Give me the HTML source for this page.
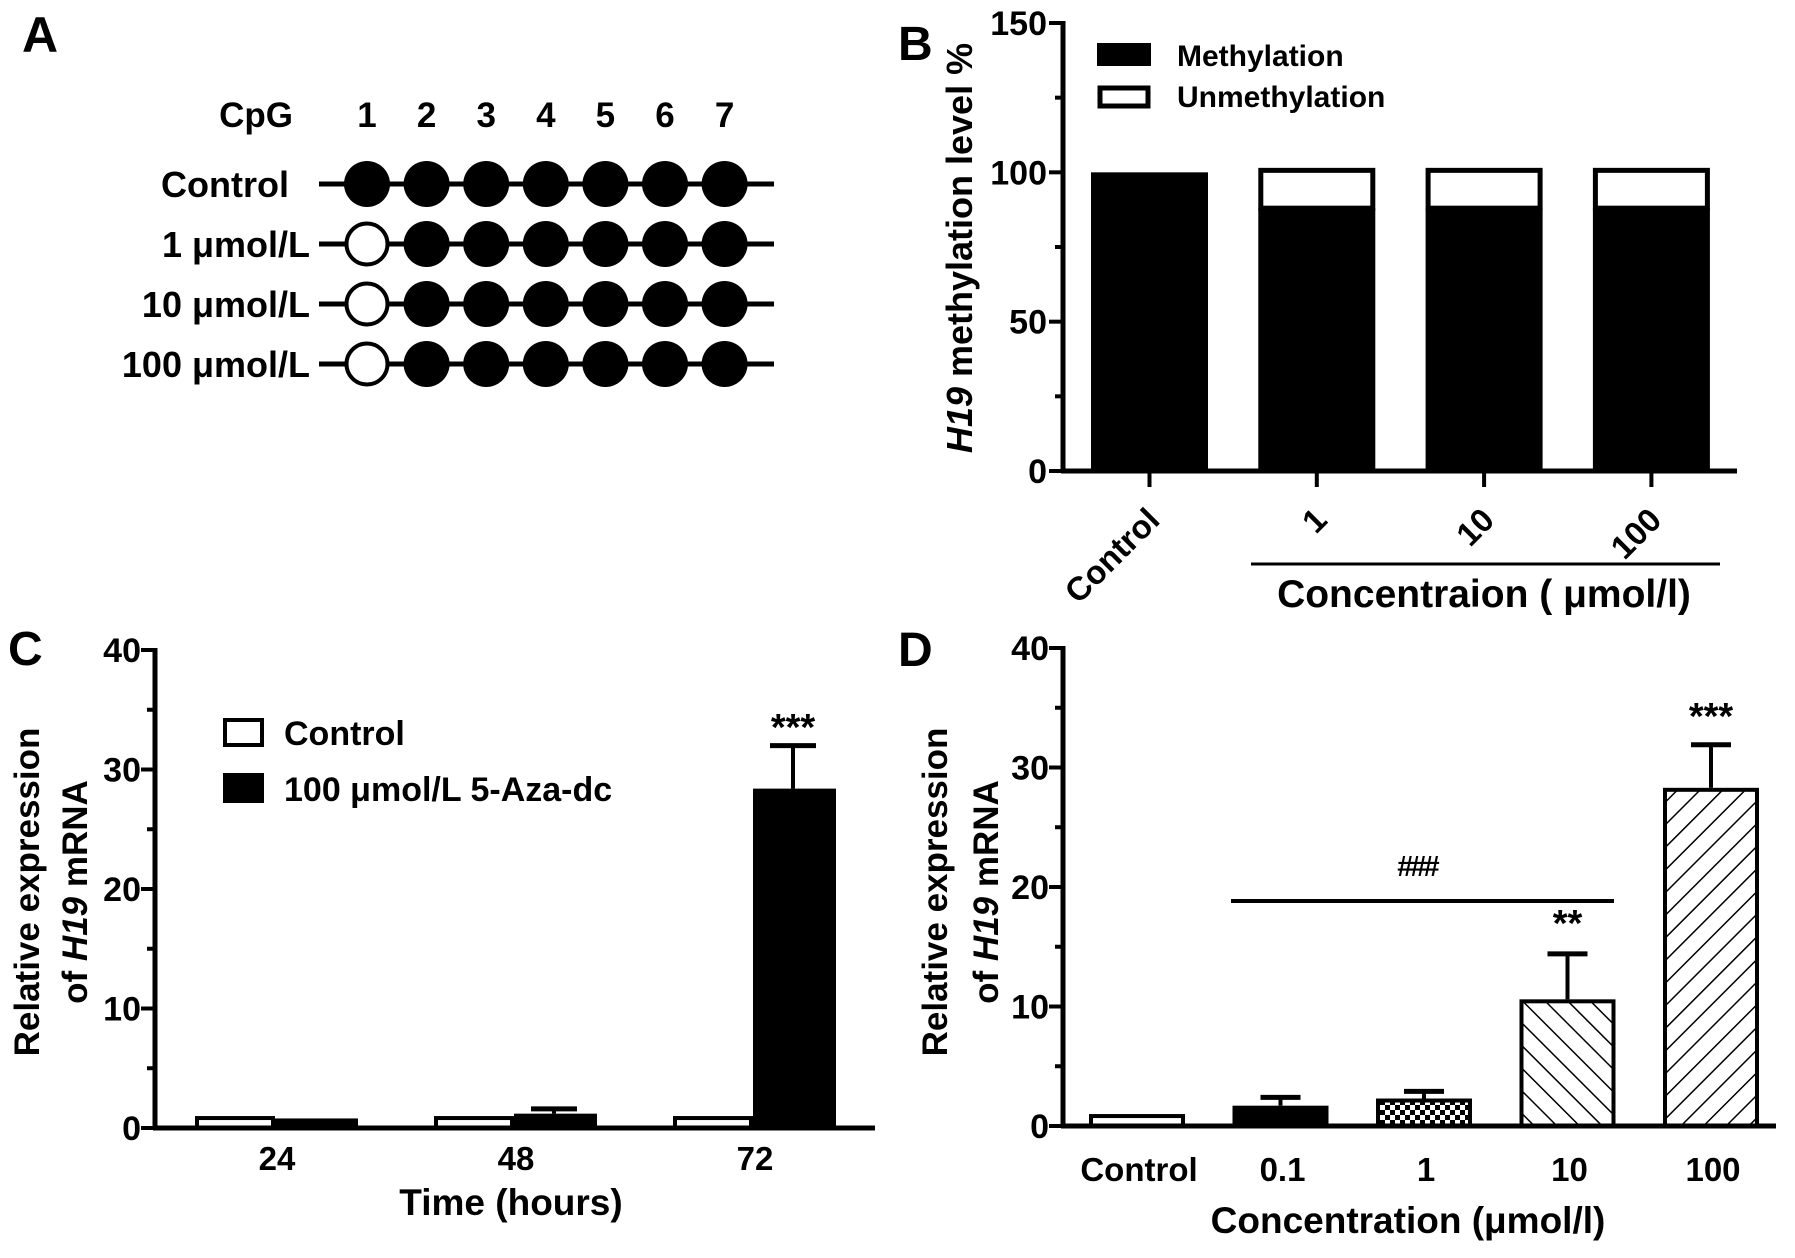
<!DOCTYPE html>
<html><head><meta charset="utf-8"><style>
html,body{margin:0;padding:0;background:#fff;}
svg{display:block;font-family:"Liberation Sans",Arial,sans-serif;font-weight:bold;}
</style></head><body>
<svg id="fig" width="1795" height="1258" viewBox="0 0 1795 1258" xmlns="http://www.w3.org/2000/svg">
<defs>
<pattern id="checker" width="10" height="10" patternUnits="userSpaceOnUse"><rect width="10" height="10" fill="#fff"/><rect width="5" height="5" fill="#000"/><rect x="5" y="5" width="5" height="5" fill="#000"/></pattern>
<pattern id="hatchBack" width="16" height="16" patternUnits="userSpaceOnUse" patternTransform="rotate(-45)"><rect width="16" height="16" fill="#fff"/><line x1="0" y1="0" x2="0" y2="16" stroke="#000" stroke-width="3"/></pattern>
<pattern id="hatchFwd" width="16" height="16" patternUnits="userSpaceOnUse" patternTransform="rotate(45)"><rect width="16" height="16" fill="#fff"/><line x1="0" y1="0" x2="0" y2="16" stroke="#000" stroke-width="3"/></pattern>
</defs>
<g id="pA"></g>
<g id="pB"></g>
<g id="pC"></g>
<g id="pD"></g>
</svg>
<script>
// ---------- data ----------
const cpgSites = ["1","2","3","4","5","6","7"];
const cpgRows = ["Control","1 μmol/L","10 μmol/L","100 μmol/L"];
const cpgMethylated = [[1,1,1,1,1,1,1],[0,1,1,1,1,1,1],[0,1,1,1,1,1,1],[0,1,1,1,1,1,1]];

const bCategories = ["Control","1","10","100"];
const bMethylation = [100, 88, 88, 88];
const bUnmethylation = [0, 13.5, 13.5, 13.5];
const bTicks = [0, 50, 100, 150];

const cCategories = ["24","48","72"];
const cControl = [1.0, 1.0, 1.0];
const cControlErr = [0, 0, 0];
const cTreated = [0.8, 1.2, 28.4];
const cTreatedErr = [0, 0.4, 3.6];
const cTicks = [0, 10, 20, 30, 40];

const dCategories = ["Control","0.1","1","10","100"];
const dValues = [1.0, 1.7, 2.3, 10.6, 28.3];
const dErrors = [0, 0.7, 0.6, 3.8, 3.6];
const dTicks = [0, 10, 20, 30, 40];

const NS = "http://www.w3.org/2000/svg";
function mk(parent, tag, attrs, text){
  const e = document.createElementNS(NS, tag);
  for (const k in attrs) e.setAttribute(k, attrs[k]);
  if (text !== undefined) e.textContent = text;
  parent.appendChild(e);
  return e;
}
function narrow(el){ el.setAttribute('font-family','"Liberation Sans Narrow","Liberation Sans",sans-serif'); return el; }

// ---------- Panel A ----------
(function(){
  const g = document.getElementById('pA');
  let t = mk(g,'text',{x:22,y:52,'font-size':50});
  t.textContent='A';
  
  
  const colX = i => 367 + 59.6*i;
  const rowY = j => 184 + 60*j;
  t = mk(g,'text',{x:293,y:127,'font-size':35,'text-anchor':'end'},'CpG');
  
  
  cpgSites.forEach((s,i)=>{
    const n = mk(g,'text',{x:colX(i),y:127,'font-size':35,'text-anchor':'middle'},s);
    
    
  });
  cpgRows.forEach((r,j)=>{
    const y = rowY(j);
    const lab = mk(g,'text',{x: j===0?289:310, y:y+13,'font-size':36,'text-anchor':'end'}, r);
    
    
    const ln = mk(g,'line',{x1:319,y1:y,x2:774,y2:y,stroke:'#000','stroke-width':5});
    
    
    cpgMethylated[j].forEach((m,i)=>{
      const c = mk(g,'circle',{cx:colX(i),cy:y,r: m?23:20.5,fill:m?'#000':'#fff',stroke:'#000','stroke-width':m?0:4});
      
      
    });
  });
})();

// ---------- Panel B ----------
(function(){
  const g = document.getElementById('pB');
  const ax = 1063, y0 = 471, ppu = (471-23)/150;
  const y = v => y0 - v*ppu;
  const xc = i => 1149.5 + 167.3*i;
  const bw = 117;
  let t = mk(g,'text',{x:898,y:60,'font-size':48},'B');
  
  
  bCategories.forEach((c,i)=>{
    const m = mk(g,'rect',{x:xc(i)-bw/2,y:y(bMethylation[i]),width:bw,height:y0-y(bMethylation[i]),fill:'#000'});
    
    
    if (bUnmethylation[i]>0){
      const top = y(bMethylation[i]+bUnmethylation[i]);
      const u = mk(g,'rect',{x:xc(i)-bw/2+2.5,y:top+2.5,width:bw-5,height:y(bMethylation[i])-top-2.5,fill:'#fff',stroke:'#000','stroke-width':5});
      
      
    }
    const tk = mk(g,'line',{x1:xc(i),y1:y0,x2:xc(i),y2:y0+16,stroke:'#000','stroke-width':4});
    
    
    const tx = xc(i)+12, ty = 522;
    const lab = mk(g,'text',{x:tx,y:ty,'font-size':33,'text-anchor':'end',transform:`rotate(-45 ${tx} ${ty})`},c);
    
    
  });
  const ya = mk(g,'line',{x1:ax,y1:21,x2:ax,y2:y0+2,stroke:'#000','stroke-width':5});
  
  
  const xa = mk(g,'line',{x1:ax-2,y1:y0,x2:1737,y2:y0,stroke:'#000','stroke-width':5});
  
  
  bTicks.forEach(v=>{
    const l = mk(g,'line',{x1:ax-14,y1:y(v),x2:ax,y2:y(v),stroke:'#000','stroke-width':4});
    
    
    const tl = narrow(mk(g,'text',{x:ax-16,y:y(v)+12,'font-size':34,'text-anchor':'end'},String(v)));
    
    
    if (v<150){
      const mn = mk(g,'line',{x1:ax-8,y1:y(v+25),x2:ax,y2:y(v+25),stroke:'#000','stroke-width':4});
      
      
    }
  });
  const yt = mk(g,'text',{x:0,y:0,'font-size':36,'text-anchor':'middle',transform:'translate(972 248) rotate(-90)'});
  
  
  mk(yt,'tspan',{'font-style':'italic'},'H19');
  mk(yt,'tspan',{},' methylation level %');
  const lg1 = mk(g,'rect',{x:1097,y:43,width:54,height:23,fill:'#000'});
  
  
  const lt1 = narrow(mk(g,'text',{x:1177,y:66,'font-size':30},'Methylation'));
  
  
  const lg2 = mk(g,'rect',{x:1100,y:88,width:48,height:18,fill:'#fff',stroke:'#000','stroke-width':5});
  
  
  const lt2 = narrow(mk(g,'text',{x:1177,y:107,'font-size':30},'Unmethylation'));
  
  
  const br = mk(g,'line',{x1:1251,y1:564,x2:1720,y2:564,stroke:'#000','stroke-width':3});
  
  
  const xt = narrow(mk(g,'text',{x:1484,y:607,'font-size':39,'text-anchor':'middle'},'Concentraion ( μmol/l)'));
  
  
})();

// ---------- Panel C ----------
(function(){
  const g = document.getElementById('pC');
  const ax = 155, y0 = 1128, ppu = (1128-650)/40;
  const y = v => y0 - v*ppu;
  const gc = i => 275 + 239*i;
  const bw = 80;
  let t = mk(g,'text',{x:8,y:665,'font-size':48},'C');
  
  
  cCategories.forEach((c,i)=>{
    const cx = gc(i);
    const cb = mk(g,'rect',{x:cx-bw+2,y:y(cControl[i])+2,width:bw-4,height:y0-y(cControl[i])-2,fill:'#fff',stroke:'#000','stroke-width':4});
    
    
    if (cTreatedErr[i]>0){
      const e = mk(g,'line',{x1:cx+bw/2,y1:y(cTreated[i]),x2:cx+bw/2,y2:y(cTreated[i]+cTreatedErr[i]),stroke:'#000','stroke-width':4});
      
      
      const ec = mk(g,'line',{x1:cx+bw/2-23,y1:y(cTreated[i]+cTreatedErr[i]),x2:cx+bw/2+23,y2:y(cTreated[i]+cTreatedErr[i]),stroke:'#000','stroke-width':5});
      
      
    }
    const tb = mk(g,'rect',{x:cx,y:y(cTreated[i]),width:bw+3,height:y0-y(cTreated[i]),fill:'#000'});
    
    
    const lab = narrow(mk(g,'text',{x:cx+2,y:1170,'font-size':33,'text-anchor':'middle'},c));
    
    
  });
  const st = mk(g,'text',{x:gc(2)+bw/2,y:740,'font-size':38,'text-anchor':'middle'},'***');
  
  
  const ya = mk(g,'line',{x1:ax,y1:648,x2:ax,y2:y0+2,stroke:'#000','stroke-width':5});
  
  
  const xa = mk(g,'line',{x1:ax-2,y1:y0,x2:875,y2:y0,stroke:'#000','stroke-width':5});
  
  
  cTicks.forEach(v=>{
    const l = mk(g,'line',{x1:ax-14,y1:y(v),x2:ax,y2:y(v),stroke:'#000','stroke-width':4});
    
    
    const tl = narrow(mk(g,'text',{x:ax-14,y:y(v)+12,'font-size':34,'text-anchor':'end'},String(v)));
    
    
    if (v<40){
      const mn = mk(g,'line',{x1:ax-8,y1:y(v+5),x2:ax,y2:y(v+5),stroke:'#000','stroke-width':4});
      
      
    }
  });
  const y1 = mk(g,'text',{x:0,y:0,'font-size':35,'text-anchor':'middle',transform:'translate(39 892) rotate(-90)'},'Relative expression');
  
  
  const y2 = mk(g,'text',{x:0,y:0,'font-size':35,'text-anchor':'middle',transform:'translate(87 892) rotate(-90)'});
  
  
  mk(y2,'tspan',{},'of ');
  mk(y2,'tspan',{'font-style':'italic'},'H19');
  mk(y2,'tspan',{},' mRNA');
  const l1 = mk(g,'rect',{x:225,y:720,width:37,height:25,fill:'#fff',stroke:'#000','stroke-width':4});
  
  
  const lt1 = narrow(mk(g,'text',{x:284,y:745,'font-size':34},'Control'));
  
  
  const l2 = mk(g,'rect',{x:223,y:773,width:41,height:30,fill:'#000'});
  
  
  const lt2 = narrow(mk(g,'text',{x:284,y:801,'font-size':34},'100 μmol/L 5-Aza-dc'));
  
  
  const xt = narrow(mk(g,'text',{x:511,y:1215,'font-size':37,'text-anchor':'middle'},'Time (hours)'));
  
  
})();

// ---------- Panel D ----------
(function(){
  const g = document.getElementById('pD');
  const ax = 1063, y0 = 1126, ppu = (1126-648)/40;
  const y = v => y0 - v*ppu;
  const xc = i => 1137 + 143.5*i;
  const bw = 96;
  const fills = ['#fff','#000','url(#checker)','url(#hatchBack)','url(#hatchFwd)'];
  let t = mk(g,'text',{x:898,y:666,'font-size':48},'D');
  
  
  dCategories.forEach((c,i)=>{
    const cx = xc(i);
    if (dErrors[i]>0){
      const e = mk(g,'line',{x1:cx,y1:y(dValues[i]),x2:cx,y2:y(dValues[i]+dErrors[i]),stroke:'#000','stroke-width':4});
      
      
      const ec = mk(g,'line',{x1:cx-20,y1:y(dValues[i]+dErrors[i]),x2:cx+20,y2:y(dValues[i]+dErrors[i]),stroke:'#000','stroke-width':5});
      
      
    }
    const b = mk(g,'rect',{x:cx-bw/2+2,y:y(dValues[i])+2,width:bw-4,height:y0-y(dValues[i])-2,fill:fills[i],stroke:'#000','stroke-width':4});
    
    
    const lab = narrow(mk(g,'text',{x:cx+2,y:1181,'font-size':33,'text-anchor':'middle'},c));
    
    
  });
  const ya = mk(g,'line',{x1:ax,y1:646,x2:ax,y2:y0+2,stroke:'#000','stroke-width':5});
  
  
  const xa = mk(g,'line',{x1:ax-2,y1:y0,x2:1776,y2:y0,stroke:'#000','stroke-width':5});
  
  
  dTicks.forEach(v=>{
    const l = mk(g,'line',{x1:ax-14,y1:y(v),x2:ax,y2:y(v),stroke:'#000','stroke-width':4});
    
    
    const tl = narrow(mk(g,'text',{x:ax-14,y:y(v)+12,'font-size':34,'text-anchor':'end'},String(v)));
    
    
    if (v<40){
      const mn = mk(g,'line',{x1:ax-8,y1:y(v+5),x2:ax,y2:y(v+5),stroke:'#000','stroke-width':4});
      
      
    }
  });
  const s2 = mk(g,'text',{x:xc(3),y:y(dValues[3]+dErrors[3])-18,'font-size':38,'text-anchor':'middle'},'**');
  
  
  const s3 = mk(g,'text',{x:xc(4),y:y(dValues[4]+dErrors[4])-16,'font-size':38,'text-anchor':'middle'},'***');
  
  
  const br = mk(g,'line',{x1:1231,y1:901,x2:1614,y2:901,stroke:'#000','stroke-width':4});
  
  
  const hs = mk(g,'text',{x:1417,y:876,'font-size':29,'text-anchor':'middle','letter-spacing':-3},'###');
  
  
  const y1 = mk(g,'text',{x:0,y:0,'font-size':35,'text-anchor':'middle',transform:'translate(947 892) rotate(-90)'},'Relative expression');
  
  
  const y2 = mk(g,'text',{x:0,y:0,'font-size':35,'text-anchor':'middle',transform:'translate(998 892) rotate(-90)'});
  
  
  mk(y2,'tspan',{},'of ');
  mk(y2,'tspan',{'font-style':'italic'},'H19');
  mk(y2,'tspan',{},' mRNA');
  const xt = narrow(mk(g,'text',{x:1408,y:1233,'font-size':37,'text-anchor':'middle'},'Concentration (μmol/l)'));
  
  
})();
</script>
</body></html>
